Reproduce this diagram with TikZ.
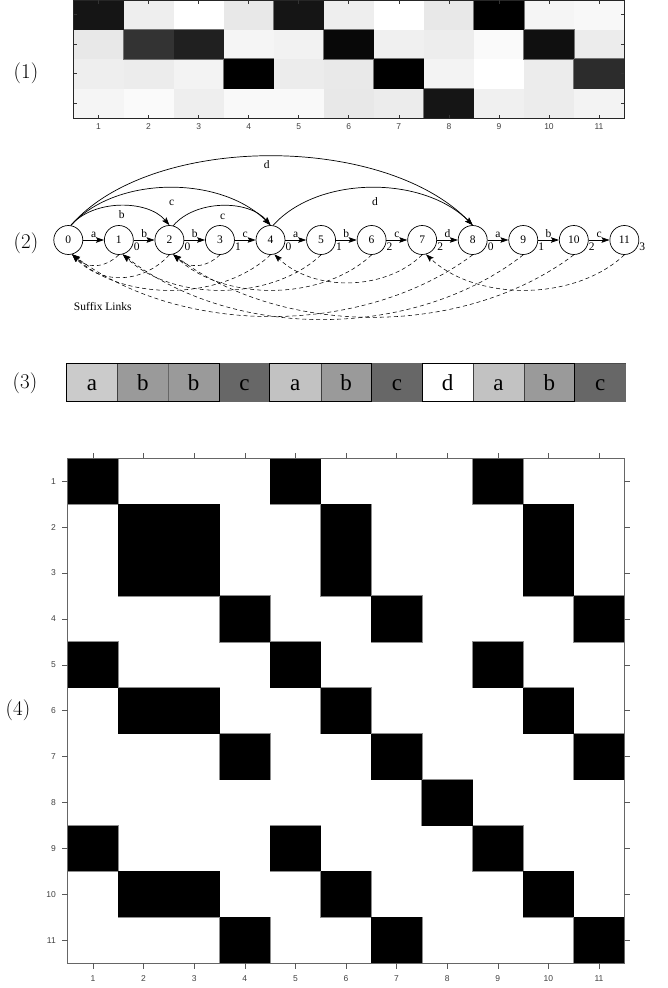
\documentclass[tikz,border=0pt]{standalone}
\usepackage{fontspec}
\usetikzlibrary{arrows.meta}
\newfontfamily\serifT{Liberation Serif}
\newfontfamily\sansA{Liberation Sans}

\definecolor{cellA}{HTML}{CBCBCB}
\definecolor{cellAa}{HTML}{C2C2C2}
\definecolor{cellB}{HTML}{9A9A9A}
\definecolor{cellC}{HTML}{676767}
\definecolor{cellD}{HTML}{FFFFFF}

\tikzset{
  state/.style={circle, draw, line width=0.7pt, minimum size=29pt, inner sep=0pt,
    font=\serifT\fontsize{11.5}{11.5}\selectfont},
  trans/.style={-{Stealth[length=8pt,width=5.5pt,inset=1.5pt]}, line width=0.7pt},
  suffix/.style={trans, line width=0.55pt, dash pattern=on 4pt off 3pt},
  lbl/.style={font=\serifT\fontsize{11.5}{11.5}\selectfont, inner sep=0pt},
  tickl/.style={font=\sansA\fontsize{8.5}{8.5}\selectfont, text=black!75, inner sep=0pt},
  tickA/.style={line width=0.6pt, black!80},
  tickB/.style={line width=0.6pt, black!65},
  panel/.style={font=\fontsize{21}{21}\selectfont, inner sep=0pt},
  cellbox/.style={minimum width=50.8pt, minimum height=38.4pt, inner sep=0pt,
    text height=15pt, text depth=0pt, font=\serifT\fontsize{23}{23}\selectfont},
  grpframe/.style={line width=0.9pt, black},
  divider/.style={line width=0.7pt, black!75},
}

\begin{document}
\begin{tikzpicture}[x=1pt,y=-1pt]
\useasboundingbox (0,0) rectangle (667,988);

% ---------------- (1) grey-level matrix ----------------
\node[panel] (lab1) at (26,73) {(1)};
\def\pOneRows{{21,238,255,232,21,238,255,232,0,245,248},
  {232,51,32,245,242,8,240,237,250,16,236},
  {238,236,243,0,236,233,0,243,255,236,44},
  {245,250,238,249,249,232,236,21,240,236,243}}
\foreach \row [count=\r] in \pOneRows {
  \foreach \v [count=\c] in \row {
    \fill[fill={rgb,255:red,\v;green,\v;blue,\v}]
      ({73.5+(\c-1)*50.05},{(\r-1)*29.5}) rectangle ++(50.05,29.5);
  }
}
% outline of the dark cells, then refill so that only the outer edge shows
\foreach \row [count=\r] in \pOneRows {
  \foreach \v [count=\c] in \row {
    \ifnum\v<128
      \draw[black!55, line width=1.1pt]
        ({73.5+(\c-1)*50.05},{(\r-1)*29.5}) rectangle ++(50.05,29.5);
    \fi
  }
}
\foreach \row [count=\r] in \pOneRows {
  \foreach \v [count=\c] in \row {
    \ifnum\v<128
      \fill[fill={rgb,255:red,\v;green,\v;blue,\v}]
        ({73.5+(\c-1)*50.05},{(\r-1)*29.5}) rectangle ++(50.05,29.5);
    \fi
  }
}
\draw[line width=0.9pt, black!85] (73.5,0) rectangle (624,118);
\foreach \c in {1,...,11}{
  \pgfmathsetmacro\xc{73.5+(\c-0.5)*50.05}
  \draw[tickA] (\xc,0) -- (\xc,3.5);
  \draw[tickA] (\xc,118) -- (\xc,114.5);
  \node[tickl] (p1x\c) at (\xc,127) {\c};
}
\foreach \r in {1,...,4}{
  \pgfmathsetmacro\yc{(\r-0.5)*29.5}
  \draw[tickA] (73.5,\yc) -- (77,\yc);
  \draw[tickA] (624,\yc) -- (620.5,\yc);
}

% ---------------- (2) automaton ----------------
\node[panel] (lab2) at (26,243) {(2)};
\foreach \i in {0,...,11}
  \node[state] (n\i) at ({68.3+50.55*\i},240) {\i};

% forward transitions with their letters
\foreach \i/\l [evaluate=\i as \j using int(\i+1)] in
    {0/a,1/b,2/b,3/c,4/a,5/b,6/c,7/d,8/a,9/b,10/c}
  \draw[trans] (n\i) -- (n\j) node[lbl, midway, anchor=base, yshift=2.5pt] (el\i) {\l};

% numbers beside the states
\foreach \i/\m in {1/0,2/0,3/1,4/0,5/1,6/2,7/2,8/0,9/1,10/2,11/3}
  \node[lbl, anchor=base] (lrs\i) at ({68.3+50.55*\i+18},250.7) {\m};

% external transitions
\draw[trans] (n0.80) .. controls +(22,-26) and +(-22,-26) .. (n2.north);
\draw[trans] (n0.80) .. controls +(45,-50) and +(-50,-50) .. (n4.north);
\draw[trans] (n2.75) .. controls +(22,-26) and +(-22,-26) .. (n4.north);
\draw[trans] (n0.80) .. controls +(80,-92) and +(-90,-92) .. (n8.north);
\draw[trans] (n4.80) .. controls +(45,-50) and +(-50,-50) .. (n8.north);
\node[lbl, anchor=base] (x02) at (121.7,218.7) {b};
\node[lbl, anchor=base] (x04) at (171.7,205) {c};
\node[lbl, anchor=base] (x24) at (222.7,219) {c};
\node[lbl, anchor=base] (x08) at (266.7,168.7) {d};
\node[lbl, anchor=base] (x48) at (375,205.7) {d};

% suffix links
\foreach \i/\j/\k/\h in {1/0/15/14, 3/2/15/14, 2/0/28/30, 7/4/38/37,
    4/0/50/47, 5/1/50/47, 6/2/50/47, 11/7/50/47,
    8/0/110/82, 9/1/110/86, 10/2/110/83}
  \draw[suffix] (n\i.south) .. controls +(-\k,\h) and +(\k,\h) .. (n\j.-75);
\node[lbl, font=\serifT\fontsize{11.5}{11.5}\selectfont] (sl) at (102.8,306.5) {Suffix Links};

% ---------------- (3) symbol sequence ----------------
\node[panel] (lab3) at (25,383) {(3)};
\foreach \f/\t [count=\c] in {cellA/a,cellB/b,cellB/b,cellC/c,cellAa/a,cellB/b,
    cellC/c,cellD/d,cellAa/a,cellB/b,cellC/c}
  \node[cellbox, fill=\f] (s\c) at ({66.7+(\c-0.5)*50.8},382.5) {\t};
\draw[divider] (s1.north east) -- (s1.south east);
\draw[divider, black!60] (s2.north east) -- (s2.south east);
\draw[divider] (s5.north east) -- (s5.south east);
\draw[divider] (s8.north east) -- (s8.south east);
\draw[divider] (s9.north east) -- (s9.south east);
\draw[divider, black!60] (s10.north east) -- (s10.south east);
\draw[grpframe] (s1.north west) rectangle (s3.south east);
\draw[grpframe] (s5.north west) rectangle (s6.south east);
\draw[grpframe] (s8.north west) rectangle (s10.south east);
\draw[line width=0.6pt, black!70] (s10.north east) -- (s11.north east);

% ---------------- (4) equality matrix ----------------
\node[panel] (lab4) at (18,710) {(4)};
\def\pFourRows{{1,5,9},{2,3,6,10},{2,3,6,10},{4,7,11},{1,5,9},{2,3,6,10},
  {4,7,11},{8},{1,5,9},{2,3,6,10},{4,7,11}}
\foreach \row [count=\r] in \pFourRows {
  \foreach \c in \row
    \draw[black!45, line width=1.2pt]
      ({67.7+(\c-1)*50.6},{458.3+(\r-1)*45.9}) rectangle ++(50.6,45.9);
}
\foreach \row [count=\r] in \pFourRows {
  \foreach \c in \row
    \fill[black] ({67.7+(\c-1)*50.6},{458.3+(\r-1)*45.9}) rectangle ++(50.6,45.9);
}
\draw[line width=0.8pt, black!60] (67.7,458.3) rectangle (624.3,963.3);
\foreach \c in {1,...,11}{
  \pgfmathsetmacro\xc{67.7+(\c-0.5)*50.6}
  \pgfmathsetmacro\yc{458.3+(\c-0.5)*45.9}
  \draw[tickB] (\xc,458.3) -- (\xc,452.8);
  \draw[tickB] (\xc,963.3) -- (\xc,968.8);
  \draw[tickB] (67.7,\yc) -- (62.2,\yc);
  \draw[tickB] (624.3,\yc) -- (629.8,\yc);
  \node[tickl, anchor=east] (p4y\c) at (56,\yc) {\c};
  \node[tickl] (p4x\c) at (\xc,979) {\c};
}
\end{tikzpicture}
\end{document}
